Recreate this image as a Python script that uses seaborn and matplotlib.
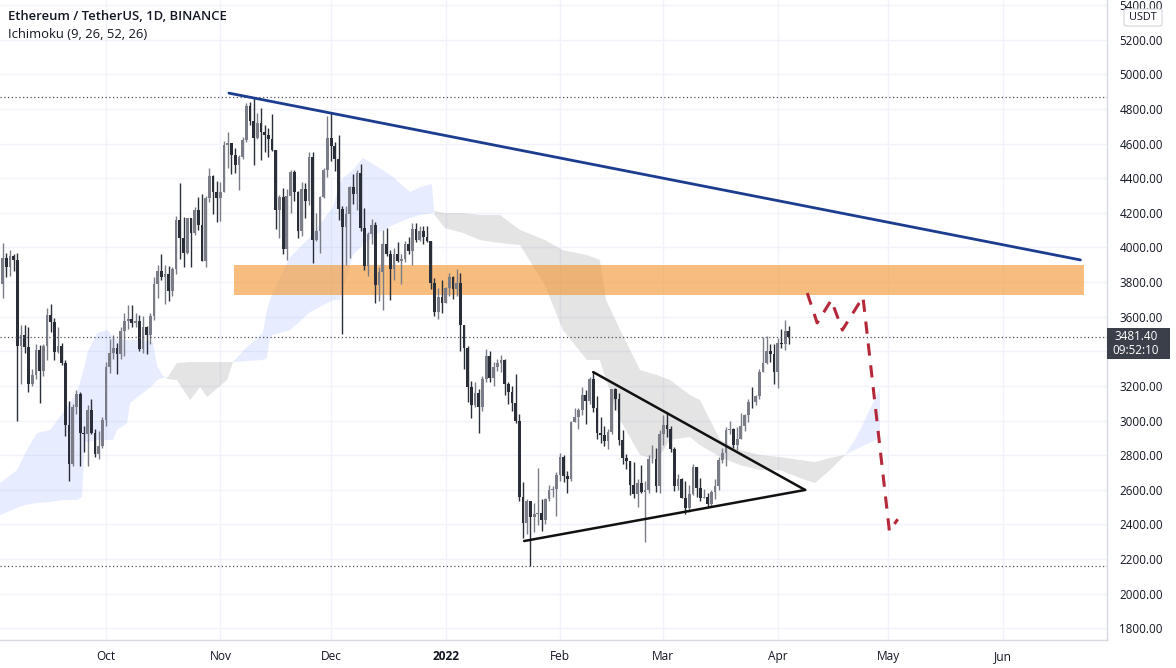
import numpy as np
import pandas as pd
import matplotlib
matplotlib.use("Agg")
import matplotlib.pyplot as plt
import matplotlib.dates as mdates
from matplotlib.patches import Rectangle, FancyBboxPatch
import seaborn as sns

# ---------------- data (daily ETH/USDT, 2021-08-31 .. 2022-04-04) ----------------
start_date = "2021-08-31"
open_ = [3224,
    3433, 3834, 3789, 3941, 3887, 3952, 3927, 3430, 3495, 3427, 3212, 3266, 3408, 3285, 3429, 3612, 3570, 3397, 3433, 3335, 2977, 2748, 3078, 3153, 2928, 2923, 3061, 2928, 2806, 2851,
    3001, 3307, 3391, 3418, 3383, 3516, 3577, 3587, 3562, 3577, 3415, 3543, 3493, 3605, 3788, 3866, 3829, 3846, 3748, 3877, 4156, 4056, 3971, 4168, 4085, 4217, 4130, 3924, 4288, 4414, 4323,
    4288, 4323, 4590, 4605, 4534, 4475, 4521, 4620, 4815, 4730, 4634, 4719, 4668, 4648, 4625, 4564, 4217, 4290, 3990, 4300, 4439, 4319, 4095, 4340, 4271, 4524, 4044, 4097, 4294, 4445,
    4632, 4586, 4512, 4221, 4118, 4195, 4348, 4309, 4432, 4110, 3893, 4078, 4131, 3782, 3860, 4019, 3961, 3875, 3960, 3923, 3935, 4018, 3981, 4108, 4046, 4094, 4063, 4036, 3794, 3629, 3713,
    3677, 3765, 3829, 3761, 3794, 3550, 3418, 3194, 3092, 3157, 3081, 3239, 3371, 3243, 3308, 3330, 3349, 3212, 3164, 3099, 2995, 2560, 2406, 2538, 2441, 2458, 2467, 2425, 2547, 2599, 2605,
    2688, 2792, 2680, 2660, 2990, 3021, 3059, 3145, 3113, 3240, 3075, 2929, 2917, 2880, 2935, 3185, 3123, 2888, 2786, 2764, 2625, 2574, 2640, 2585, 2600, 2775, 2780, 2620,
    2920, 2975, 2950, 2835, 2620, 2665, 2555, 2495, 2575, 2730, 2610, 2555, 2560, 2515, 2590, 2620, 2772, 2815, 2945, 2950, 2860, 2895, 2970, 3030, 3110, 3105, 3140, 3280, 3330, 3400, 3385,
    3280, 3450, 3445, 3520]
high = [3470,
    3840, 3843, 4027, 3971, 3983, 3965, 3970, 3550, 3552, 3540, 3295, 3440, 3435, 3440, 3650, 3675, 3590, 3540, 3446, 3350, 3115, 3095, 3175, 3165, 2970, 3090, 3125, 2950, 2940, 3020,
    3340, 3470, 3492, 3447, 3542, 3620, 3668, 3667, 3623, 3608, 3602, 3548, 3620, 3832, 3900, 3963, 3900, 3895, 3885, 4182, 4375, 4175, 4173, 4170, 4235, 4294, 4308, 4296, 4460, 4418, 4385,
    4380, 4615, 4667, 4606, 4577, 4535, 4637, 4833, 4838, 4868, 4779, 4808, 4706, 4689, 4772, 4566, 4305, 4343, 4339, 4445, 4450, 4325, 4380, 4372, 4550, 4552, 4199, 4300, 4460, 4760,
    4778, 4608, 4650, 4240, 4240, 4357, 4427, 4446, 4480, 4230, 4087, 4162, 4150, 3885, 4100, 4111, 3985, 3998, 4029, 3965, 4035, 4060, 4140, 4144, 4124, 4126, 4124, 4036, 3826, 3767, 3811,
    3770, 3854, 3838, 3878, 3850, 3550, 3428, 3230, 3220, 3182, 3255, 3412, 3400, 3336, 3358, 3379, 3357, 3220, 3200, 3270, 3040, 2645, 2545, 2535, 2524, 2723, 2548, 2550, 2630, 2620, 2705,
    2812, 2800, 2706, 3000, 3070, 3071, 3194, 3178, 3250, 3285, 3139, 3020, 2968, 2950, 3185, 3190, 3160, 2946, 2805, 2765, 2760, 2660, 2745, 2650, 2800, 2860, 2840, 2945,
    3030, 3047, 2968, 2845, 2690, 2670, 2650, 2630, 2750, 2732, 2670, 2605, 2580, 2600, 2660, 2790, 2840, 2960, 2995, 2955, 2965, 3045, 3035, 3125, 3195, 3150, 3297, 3480, 3487, 3445, 3445,
    3475, 3530, 3580, 3545]
low = [3160,
    3388, 3720, 3708, 3830, 3835, 3863, 3000, 3210, 3390, 3165, 3200, 3240, 3100, 3260, 3350, 3510, 3350, 3390, 3320, 2910, 2650, 2740, 3040, 2740, 2820, 2740, 2923, 2790, 2780, 2840,
    2970, 3275, 3358, 3270, 3358, 3372, 3530, 3542, 3541, 3403, 3389, 3385, 3445, 3582, 3710, 3815, 3674, 3689, 3720, 3848, 3935, 3887, 3960, 3890, 4075, 4101, 3922, 3890, 4265, 4195, 4146,
    4155, 4320, 4458, 4426, 4430, 4330, 4510, 4609, 4706, 4475, 4624, 4507, 4551, 4524, 4555, 4105, 4056, 3962, 3927, 4202, 4270, 4052, 4065, 4170, 4246, 3913, 4037, 3968, 4288, 4408,
    4500, 4440, 4160, 3500, 3900, 3940, 4251, 4216, 4093, 3870, 3838, 4019, 3678, 3690, 3640, 3950, 3695, 3813, 3915, 3790, 3915, 3960, 3900, 4030, 4036, 4019, 4030, 3760, 3604, 3585, 3622,
    3677, 3720, 3700, 3720, 3400, 3300, 3110, 3017, 3080, 2930, 3056, 3220, 3225, 3200, 3285, 3280, 3150, 3095, 3053, 2985, 2535, 2320, 2342, 2160, 2358, 2395, 2362, 2400, 2535, 2557, 2450,
    2653, 2646, 2580, 2650, 2990, 2950, 3030, 2980, 3097, 3050, 2895, 2870, 2855, 2835, 2925, 3060, 2860, 2750, 2720, 2570, 2552, 2500, 2580, 2300, 2580, 2755, 2590, 2580,
    2860, 2905, 2820, 2595, 2599, 2550, 2460, 2470, 2570, 2560, 2535, 2550, 2500, 2505, 2545, 2600, 2755, 2735, 2925, 2840, 2830, 2895, 2940, 2990, 3075, 3090, 3123, 3280, 3325, 3340, 3210,
    3190, 3420, 3405, 3440]
close = [3433,
    3834, 3789, 3941, 3887, 3952, 3927, 3430, 3495, 3427, 3212, 3266, 3408, 3285, 3429, 3612, 3570, 3397, 3433, 3335, 2977, 2748, 3078, 3153, 2928, 2923, 3061, 2928, 2806, 2851, 3001,
    3307, 3391, 3418, 3383, 3516, 3577, 3587, 3562, 3577, 3415, 3543, 3493, 3605, 3788, 3866, 3829, 3846, 3748, 3877, 4156, 4056, 3971, 4168, 4085, 4217, 4130, 3924, 4288, 4414, 4323, 4288,
    4323, 4590, 4605, 4534, 4475, 4521, 4620, 4815, 4730, 4634, 4719, 4668, 4648, 4625, 4564, 4217, 4290, 3990, 4300, 4439, 4319, 4095, 4340, 4271, 4524, 4044, 4097, 4294, 4445, 4632,
    4586, 4512, 4221, 4118, 4195, 4348, 4309, 4432, 4110, 3893, 4078, 4131, 3782, 3860, 4019, 3961, 3875, 3960, 3923, 3935, 4018, 3981, 4108, 4046, 4094, 4063, 4036, 3794, 3629, 3713, 3677,
    3765, 3829, 3761, 3794, 3550, 3418, 3194, 3092, 3157, 3081, 3239, 3371, 3243, 3308, 3330, 3349, 3212, 3164, 3099, 2995, 2560, 2406, 2538, 2441, 2458, 2467, 2425, 2547, 2599, 2605, 2688,
    2792, 2680, 2660, 2990, 3021, 3059, 3145, 3113, 3240, 3075, 2929, 2917, 2880, 2935, 3185, 3123, 2888, 2786, 2764, 2625, 2574, 2640, 2585, 2600, 2775, 2780, 2620, 2920,
    2975, 2950, 2835, 2620, 2665, 2555, 2495, 2575, 2730, 2610, 2555, 2560, 2515, 2590, 2620, 2772, 2815, 2945, 2950, 2860, 2895, 2970, 3030, 3110, 3105, 3140, 3280, 3330, 3400, 3385, 3280,
    3450, 3445, 3520, 3481.4]

# Ichimoku cloud: days from 2021-10-01, leading span A, leading span B
cloud_day = [-28.7, -24.1, -21.9, -18.7, -15.2, -11.7, -7.9, -6.5, -5.7, -5.1, -2.4, 0.3,
             1.9, 3.0, 5.7, 6.5, 10.0, 12.7, 13.8, 15.2, 16.8, 19.2, 22.8, 25.5,
             27.4, 32.8, 34.4, 38.2, 42.5, 43.6, 44.4, 45.2, 49.9, 55.3, 61.5, 63.4,
             64.2, 66.9, 69.6, 72.9, 77.8, 82.4, 85.1, 88.3, 89.0, 91.8, 96.7, 101.3,
             106.7, 112.2, 118.9, 123.8, 130.3, 133.8, 135.5, 139.3, 144.7, 149.3, 152.8, 158.2,
             160.9, 166.4, 171.8, 177.2, 182.6, 188.0, 192.1, 196.2, 200.2, 202.9, 205.6, 209.7]
span_a = [2639, 2714, 2812, 2928, 2945, 3044, 3159, 3263, 3321, 3390, 3506, 3523,
          3483, 3465, 3465, 3465, 3465, 3454, 3321, 3263, 3240, 3234, 3119, 3194,
          3136, 3234, 3338, 3425, 3506, 3639, 3696, 3737, 3945, 4060, 4234, 4372,
          4401, 4448, 4517, 4476, 4407, 4320, 4349, 4367, 4188, 4112, 4084, 4043,
          4026, 4014, 3783, 3523, 3350, 3350, 3234, 3003, 2801, 2772, 2888, 2905,
          2859, 2789, 2743, 2714, 2714, 2668, 2639, 2714, 2801, 2888, 3003, 3188]
span_b = [2454, 2495, 2512, 2524, 2529, 2541, 2541, 2558, 2876, 2876, 2888, 2888,
          2888, 2945, 2986, 3101, 3159, 3205, 3234, 3246, 3252, 3332, 3338, 3338,
          3338, 3338, 3338, 3344, 3350, 3361, 3483, 3494, 3523, 3627, 3696, 3696,
          3754, 3956, 4014, 4072, 4130, 4170, 4188, 4199, 4211, 4199, 4199, 4188,
          4188, 4101, 4043, 3985, 3956, 3928, 3696, 3523, 3292, 3263, 3234, 3148,
          3119, 2888, 2830, 2801, 2789, 2772, 2760, 2784, 2801, 2830, 2859, 2899]

# drawings
trend_dates = ["2021-11-03 07:00", "2022-06-22 00:00"]
trend_prices = [4892, 3928]
zone_dates = ["2021-11-04 17:00", "2022-06-23 00:00"]
zone_prices = [3725, 3899]
tri_upper_dates = ["2022-02-10 00:00", "2022-04-08 10:00"]
tri_upper_prices = [3280, 2599]
tri_lower_dates = ["2022-01-22 07:00", "2022-04-08 10:00"]
tri_lower_prices = [2304, 2599]
proj_dates = ["2022-04-09 00:00", "2022-04-11 16:00", "2022-04-15 12:00", "2022-04-18 12:00",
              "2022-04-24 02:00", "2022-05-01 06:00", "2022-05-03 12:00"]
proj_prices = [3737, 3564, 3696, 3523, 3714, 2360, 2430]
level_prices = [4868, 3481.4, 2159]
last_price = "3481.40"
countdown = "09:52:10"

month_ticks = ["2021-10-01", "2021-11-01", "2021-12-01", "2022-01-01", "2022-02-01",
               "2022-03-01", "2022-04-01", "2022-05-01", "2022-06-01"]
month_labels = ["Oct", "Nov", "Dec", "2022", "Feb", "Mar", "Apr", "May", "Jun"]
price_ticks = list(range(1800, 5401, 200))
hidden_tick = 3400  # covered by the last-price label

# ---------------- style ----------------
sns.set_theme(style="white")
plt.rcParams["font.family"] = ["Open Sans", "DejaVu Sans"]
TXT = "#131722"
UP, DOWN = "#7a7d87", "#2a2e39"

W, H = 1176, 668
fig = plt.figure(figsize=(W / 100, H / 100), dpi=100)
ax = fig.add_axes([0, 28 / H, 1107 / W, 640 / H])


def dn(s):
    return mdates.date2num(pd.to_datetime(pd.Series(s), format="ISO8601")).astype(float)


ref = dn(["2021-10-01"])[0]
ppd = 3.691

# grid
for t in dn(month_ticks):
    ax.axvline(t, color="#f0f3fa", lw=1, zorder=0)
for p in price_ticks:
    ax.axhline(p, color="#f0f3fa", lw=1, zorder=0)

# cloud
cx = ref + np.array(cloud_day, float)
A = np.array(span_a, float)
B = np.array(span_b, float)
ax.fill_between(cx, A, B, where=A >= B, interpolate=True, color="#2962ff", alpha=0.11, lw=0, zorder=1)
ax.fill_between(cx, A, B, where=A < B, interpolate=True, color="#9e9e9e", alpha=0.28, lw=0, zorder=1)

# orange zone
z0, z1 = dn(zone_dates)
ax.add_patch(Rectangle((z0, zone_prices[0]), z1 - z0, zone_prices[1] - zone_prices[0],
                       facecolor="#f29a3a", alpha=0.65, edgecolor="none", zorder=2))

# candles
dates = pd.date_range(start_date, periods=len(close), freq="D")
x = mdates.date2num(dates)
o, h, l, c = map(lambda v: np.array(v, float), (open_, high, low, close))
cols = np.where(c >= o, UP, DOWN)
ax.vlines(x, l, h, colors=cols, lw=1, zorder=3)
ax.bar(x, np.maximum(np.abs(c - o), 4), bottom=np.minimum(o, c), width=0.74,
       color=cols, linewidth=0, zorder=4)

# dotted levels
for lv in level_prices:
    ax.axhline(lv, color="#50535e", lw=0.9, ls=(0, (1, 2)), zorder=5)

# trend line, triangle, projection
sns.lineplot(x=dn(trend_dates), y=trend_prices, ax=ax, color="#1c3c8f", lw=2, zorder=6)
sns.lineplot(x=dn(tri_upper_dates), y=tri_upper_prices, ax=ax, color="#111111", lw=1.8, zorder=6)
sns.lineplot(x=dn(tri_lower_dates), y=tri_lower_prices, ax=ax, color="#111111", lw=1.8, zorder=6)
ax.plot(dn(proj_dates), proj_prices, color="#b5283a", lw=2.2, dashes=(4, 3.2), zorder=6)

# axes
ax.set_xticks(dn(month_ticks))
ax.set_xticklabels(month_labels)
for lab in ax.get_xticklabels():
    if lab.get_text() == "2022":
        lab.set_fontweight("bold")
ax.tick_params(axis="x", length=0, pad=7, labelsize=8.6, labelcolor=TXT)
ax.yaxis.tick_right()
ax.set_yticks(price_ticks)
ax.set_yticklabels(["" if p == hidden_tick else f"{p:.2f}" for p in price_ticks])
ax.tick_params(axis="y", length=0, pad=9, labelsize=8.4, labelcolor=TXT)
for s in ["top", "left"]:
    ax.spines[s].set_visible(False)
for s in ["right", "bottom"]:
    ax.spines[s].set_color("#d6d9e0")
    ax.spines[s].set_linewidth(1)
ax.grid(False)
ax.set_xlim(ref - 106 / ppd, ref + 1001 / ppd)
ax.set_ylim(1732, 5430)

# header
fig.text(8 / W, 1 - 17 / H, "Ethereum / TetherUS, 1D, BINANCE", fontsize=9.4,
         fontweight="semibold", color=TXT, va="center", ha="left")
fig.text(8 / W, 1 - 35 / H, "Ichimoku (9, 26, 52, 26)", fontsize=9.4, color=TXT,
         va="center", ha="left")

# last price label
fig.patches.append(Rectangle((1107 / W, 1 - 359 / H), 63 / W, 31 / H, transform=fig.transFigure,
                             facecolor="#3b3f4a", edgecolor="none", zorder=10))
fig.text(1136 / W, 1 - 337 / H, last_price, color="white", fontsize=8.4, ha="center", va="center", zorder=11)
fig.text(1136 / W, 1 - 351 / H, countdown, color="white", fontsize=8.4, ha="center", va="center", zorder=11)

# currency box
fig.patches.append(FancyBboxPatch((1124 / W, 1 - 26 / H), 38 / W, 17 / H, transform=fig.transFigure,
                                  boxstyle="round,pad=0,rounding_size=0.003", facecolor="white",
                                  edgecolor="#d1d4dc", lw=0.8, zorder=10))
fig.text(1143 / W, 1 - 17.5 / H, "USDT", color=TXT, fontsize=7.8, ha="center", va="center", zorder=11)

fig.savefig("out.png", dpi=100)
